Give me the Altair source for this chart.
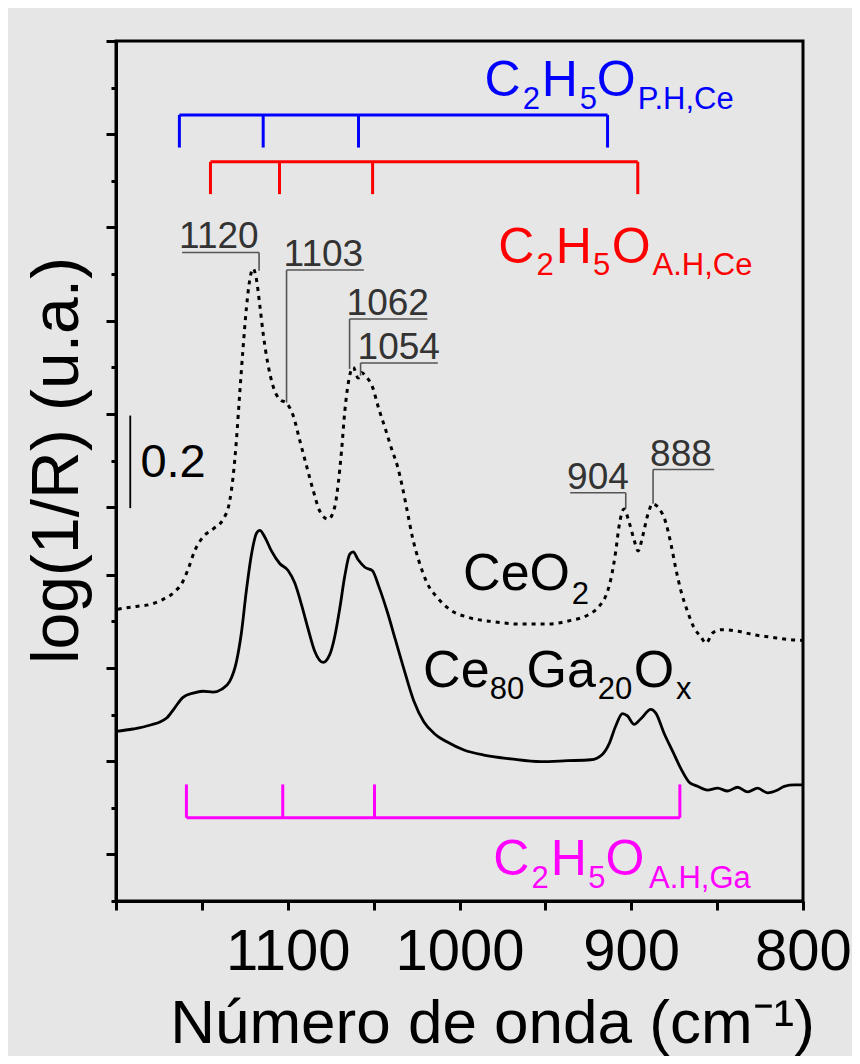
import altair as alt
import pandas as pd

FONT = "Liberation Sans"
BG = "#e6e6e6"

# ---- spectra (wavenumber cm-1, log(1/R) offset units) ----
ceo2_wn = [1199.0, 1188.2, 1180.4, 1172.6, 1165.9, 1161.0, 1158.0, 1154.2, 1149.3, 1143.5,
           1137.6, 1133.8, 1131.8, 1129.9, 1128.0, 1126.0, 1124.1, 1122.1, 1120.2, 1118.2,
           1116.3, 1114.3, 1111.4, 1108.5, 1104.7, 1100.7, 1096.8, 1093.0, 1089.1, 1085.2,
           1081.3, 1076.4, 1072.6, 1070.6, 1068.7, 1066.8, 1064.8, 1061.9, 1059.0, 1057.0,
           1054.7, 1050.8, 1047.0, 1043.0, 1039.1, 1036.2, 1033.3, 1030.4, 1027.5, 1023.6,
           1018.7, 1012.9, 1005.2, 995.4, 979.9, 964.4, 948.8, 935.2, 925.5, 918.7,
           914.8, 911.9, 909.0, 907.1, 904.2, 901.2, 898.3, 896.0, 893.4, 890.5,
           887.6, 883.8, 879.9, 876.9, 874.0, 871.1, 867.2, 863.4, 859.5, 856.5,
           852.6, 847.8, 838.1, 828.4, 818.7, 808.9, 800.0]
ceo2_y = [0.626, 0.632, 0.636, 0.647, 0.663, 0.686, 0.712, 0.751, 0.781, 0.798,
          0.819, 0.858, 0.911, 0.988, 1.087, 1.187, 1.271, 1.333, 1.357, 1.333,
          1.279, 1.217, 1.149, 1.104, 1.076, 1.068, 1.041, 0.988, 0.934, 0.881,
          0.836, 0.819, 0.846, 0.896, 0.965, 1.050, 1.110, 1.145, 1.122, 1.134,
          1.126, 1.104, 1.056, 1.011, 0.965, 0.934, 0.889, 0.836, 0.782, 0.729,
          0.681, 0.651, 0.624, 0.609, 0.599, 0.594, 0.594, 0.602, 0.613, 0.632,
          0.655, 0.690, 0.751, 0.804, 0.841, 0.812, 0.774, 0.751, 0.782, 0.827,
          0.852, 0.842, 0.812, 0.766, 0.712, 0.666, 0.621, 0.586, 0.567, 0.553,
          0.575, 0.582, 0.579, 0.571, 0.566, 0.561, 0.559]

cega_wn = [1200.0, 1190.1, 1180.4, 1170.7, 1165.9, 1161.0, 1155.1, 1149.3, 1143.5, 1138.6,
           1133.8, 1129.9, 1127.0, 1124.1, 1121.1, 1118.2, 1116.3, 1113.4, 1109.5, 1104.7,
           1099.8, 1095.9, 1092.0, 1088.1, 1084.3, 1079.4, 1075.5, 1072.6, 1069.7, 1066.8,
           1063.9, 1061.9, 1059.0, 1055.1, 1050.8, 1047.0, 1042.1, 1037.2, 1032.4, 1026.6,
           1020.7, 1014.9, 1007.1, 997.4, 985.8, 970.2, 952.7, 937.2, 923.6, 916.7,
           912.9, 909.0, 905.1, 902.2, 898.3, 894.4, 888.6, 885.7, 880.9, 876.0,
           871.1, 866.3, 861.4, 855.6, 849.7, 843.9, 838.1, 832.2, 826.4, 820.6,
           814.8, 810.9, 805.1, 800.0]
cega_y = [0.364, 0.369, 0.377, 0.392, 0.414, 0.437, 0.446, 0.450, 0.448, 0.454,
          0.471, 0.513, 0.575, 0.666, 0.744, 0.789, 0.795, 0.781, 0.751, 0.724,
          0.709, 0.682, 0.636, 0.583, 0.536, 0.512, 0.529, 0.568, 0.628, 0.697,
          0.744, 0.749, 0.732, 0.716, 0.709, 0.675, 0.621, 0.559, 0.498, 0.429,
          0.384, 0.360, 0.341, 0.324, 0.313, 0.305, 0.299, 0.301, 0.303, 0.315,
          0.337, 0.376, 0.402, 0.397, 0.379, 0.391, 0.411, 0.403, 0.360, 0.322,
          0.284, 0.255, 0.246, 0.238, 0.242, 0.236, 0.244, 0.234, 0.242, 0.232,
          0.238, 0.246, 0.249, 0.249]

# ---- axis ticks ----
x_ticks = [1200, 1150, 1100, 1050, 1000, 950, 900, 850, 800]
y_major = [0.1, 0.3, 0.5, 0.7, 0.845, 1.045, 1.245, 1.445, 1.645, 1.845]
y_minor = [0.0, 0.2, 0.4, 0.6, 0.945, 1.145, 1.345, 1.545, 1.745]

# ---- assignment brackets ----
blue_ticks = [1163.1, 1114.3, 1058.8, 913.8]
blue_base, blue_tip = 1.6864, 1.6164
red_ticks = [1145.0, 1104.8, 1050.6, 896.2]
red_base, red_tip = 1.5857, 1.5165
mag_ticks = [1159.0, 1102.9, 1049.5, 871.7]
mag_base, mag_tip = 0.1785, 0.2501

# ---- peak annotations ----
peak_labels = ["1120", "1103", "1062", "1054", "904", "888"]
peak_x1 = [1161.5, 1100.7, 1064.0, 1057.6, 935.6, 887.3]
peak_x2 = [1116.7, 1055.7, 1018.7, 1012.6, 903.2, 851.7]
peak_yl = [1.3914, 1.3536, 1.2486, 1.1543, 0.8758, 0.9257]
peak_xv = [1116.7, 1100.7, 1064.0, 1057.6, 903.2, 887.3]
peak_yb = [1.3521, 1.0693, 1.1415, 1.1271, 0.8415, 0.8522]

# ---- scale bar ----
bar_x, bar_y0, bar_y1 = 1191.7, 0.8428, 1.0414
bar_label_x, bar_label_y = 1185.8, 0.9092

X_SCALE = alt.Scale(domain=[800, 1200], reverse=True, nice=False, zero=False)
Y_SCALE = alt.Scale(domain=[0, 1.845], nice=False, zero=False)

segs = []
def add_bracket(ticks, base, tip, color):
    segs.append(dict(x=ticks[0], x2=ticks[-1], y=base, y2=base, c=color, w=3.0))
    for t in ticks:
        segs.append(dict(x=t, x2=t, y=base, y2=tip, c=color, w=3.0))

add_bracket(blue_ticks, blue_base, blue_tip, "#0000ff")
add_bracket(red_ticks, red_base, red_tip, "#ff0000")
add_bracket(mag_ticks, mag_base, mag_tip, "#ff00ff")
for i in range(len(peak_labels)):
    segs.append(dict(x=peak_x1[i], x2=peak_x2[i], y=peak_yl[i], y2=peak_yl[i], c="#555555", w=1.6))
    segs.append(dict(x=peak_xv[i], x2=peak_xv[i], y=peak_yl[i], y2=peak_yb[i], c="#555555", w=1.6))
segs.append(dict(x=bar_x, x2=bar_x, y=bar_y0, y2=bar_y1, c="#000000", w=1.8))
seg_df = pd.DataFrame(segs)

pieces = [
    (985.4, 1.7271, "C", 50, "#0000ff"), (963.2, 1.6993, "2", 31, "#0000ff"),
    (952.1, 1.7271, "H", 50, "#0000ff"), (930.0, 1.6993, "5", 31, "#0000ff"),
    (920.1, 1.7271, "O", 50, "#0000ff"), (896.2, 1.6993, "P.H,Ce", 31, "#0000ff"),
    (977.5, 1.3693, "C", 50, "#ff0000"), (955.2, 1.3436, "2", 31, "#ff0000"),
    (944.0, 1.3693, "H", 50, "#ff0000"), (922.2, 1.3436, "5", 31, "#ff0000"),
    (911.3, 1.3693, "O", 50, "#ff0000"), (887.6, 1.3436, "A.H,Ce", 31, "#ff0000"),
    (980.4, 0.0557, "C", 50, "#ff00ff"), (958.1, 0.0272, "2", 31, "#ff00ff"),
    (946.9, 0.0557, "H", 50, "#ff00ff"), (925.1, 0.0272, "5", 31, "#ff00ff"),
    (915.0, 0.0557, "O", 50, "#ff00ff"), (889.6, 0.0272, "A.H,Ga", 31, "#ff00ff"),
    (997.9, 0.6664, "CeO", 52, "#000000"), (934.6, 0.6364, "2", 31, "#000000"),
    (1021.2, 0.4592, "Ce", 52, "#000000"), (982.4, 0.4344, "80", 31, "#000000"),
    (961.0, 0.4592, "Ga", 52, "#000000"), (919.5, 0.4344, "20", 31, "#000000"),
    (898.5, 0.4592, "O", 52, "#000000"), (874.0, 0.4344, "x", 31, "#000000"),
    (bar_label_x, bar_label_y, "0.2", 47, "#000000"),
]
txt_df = pd.DataFrame(pieces, columns=["x", "y", "t", "s", "c"])
num_df = pd.DataFrame({"x": peak_x1, "y": peak_yl, "t": peak_labels})

ceo2_df = pd.DataFrame({"wn": ceo2_wn, "y": ceo2_y})
cega_df = pd.DataFrame({"wn": cega_wn, "y": cega_y})

x_axis = alt.Axis(
    orient="bottom",
    values=x_ticks,
    format="d",
    labelExpr="(datum.value % 100 == 0 && datum.value < 1200) ? datum.label : ''",
    tickSize=9, tickWidth=3, tickColor="black",
    domainWidth=3, domainColor="black",
    labelFontSize=58, labelFont=FONT, labelColor="black",
    labelBaseline="alphabetic", labelPadding=59, labelFlush=False, labelOverlap=False,
    title="Número de onda (cm⁻¹)", titleFontSize=62, titleFont=FONT,
    titleFontWeight="normal", titleColor="black",
    titleX=376, titleY=141, titleAlign="center", titleBaseline="alphabetic",
    grid=False,
)
y_axis_major = alt.Axis(
    orient="left", values=y_major, labels=False,
    tickSize=10, tickWidth=3, tickColor="black",
    domainWidth=3, domainColor="black", grid=False,
    title="log(1/R) (u.a.)", titleFontSize=66, titleFont=FONT,
    titleFontWeight="normal", titleColor="black",
    titleX=-59, titleY=419, titleAngle=270, titleAlign="center", titleBaseline="middle",
)
y_axis_minor = alt.Axis(
    orient="left", values=y_minor, labels=False,
    tickSize=5, tickWidth=3, tickColor="black",
    domain=False, grid=False, title="",
)

ceo2_line = alt.Chart(ceo2_df).mark_line(
    color="black", strokeWidth=3, strokeDash=[4, 5], interpolate="monotone"
).encode(
    x=alt.X("wn:Q", scale=X_SCALE, axis=x_axis),
    y=alt.Y("y:Q", scale=Y_SCALE, axis=y_axis_major),
)

cega_line = alt.Chart(cega_df).mark_line(
    color="black", strokeWidth=2.8, interpolate="monotone"
).encode(
    x=alt.X("wn:Q", scale=X_SCALE, axis=None),
    y=alt.Y("y:Q", scale=Y_SCALE, axis=y_axis_minor),
)

rules = alt.Chart(seg_df).mark_rule(strokeCap="butt").encode(
    x=alt.X("x:Q", scale=X_SCALE, axis=None),
    x2="x2:Q",
    y=alt.Y("y:Q", scale=Y_SCALE, axis=None),
    y2="y2:Q",
    color=alt.Color("c:N", scale=None),
    strokeWidth=alt.StrokeWidth("w:Q", scale=None),
)

texts = alt.Chart(txt_df).mark_text(
    align="left", baseline="alphabetic", font=FONT
).encode(
    x=alt.X("x:Q", scale=X_SCALE, axis=None),
    y=alt.Y("y:Q", scale=Y_SCALE, axis=None),
    text="t:N",
    size=alt.Size("s:Q", scale=None),
    color=alt.Color("c:N", scale=None),
)

nums = alt.Chart(num_df).mark_text(
    align="left", baseline="alphabetic", font=FONT, fontSize=37,
    color="#333333", dx=-3, dy=-4
).encode(
    x=alt.X("x:Q", scale=X_SCALE, axis=None),
    y=alt.Y("y:Q", scale=Y_SCALE, axis=None),
    text="t:N",
)

chart = alt.layer(ceo2_line, cega_line, rules, texts, nums).resolve_axis(
    x="independent", y="independent"
).properties(
    width=687, height=860,
    padding={"left": 108, "top": 33, "right": 49, "bottom": 155},
    autosize=alt.AutoSizeParams(type="none"),
).configure(
    background=BG, font=FONT
).configure_view(
    stroke="black", strokeWidth=3
)

chart.save("out.html", embed_options={"renderer": "svg", "actions": False})
